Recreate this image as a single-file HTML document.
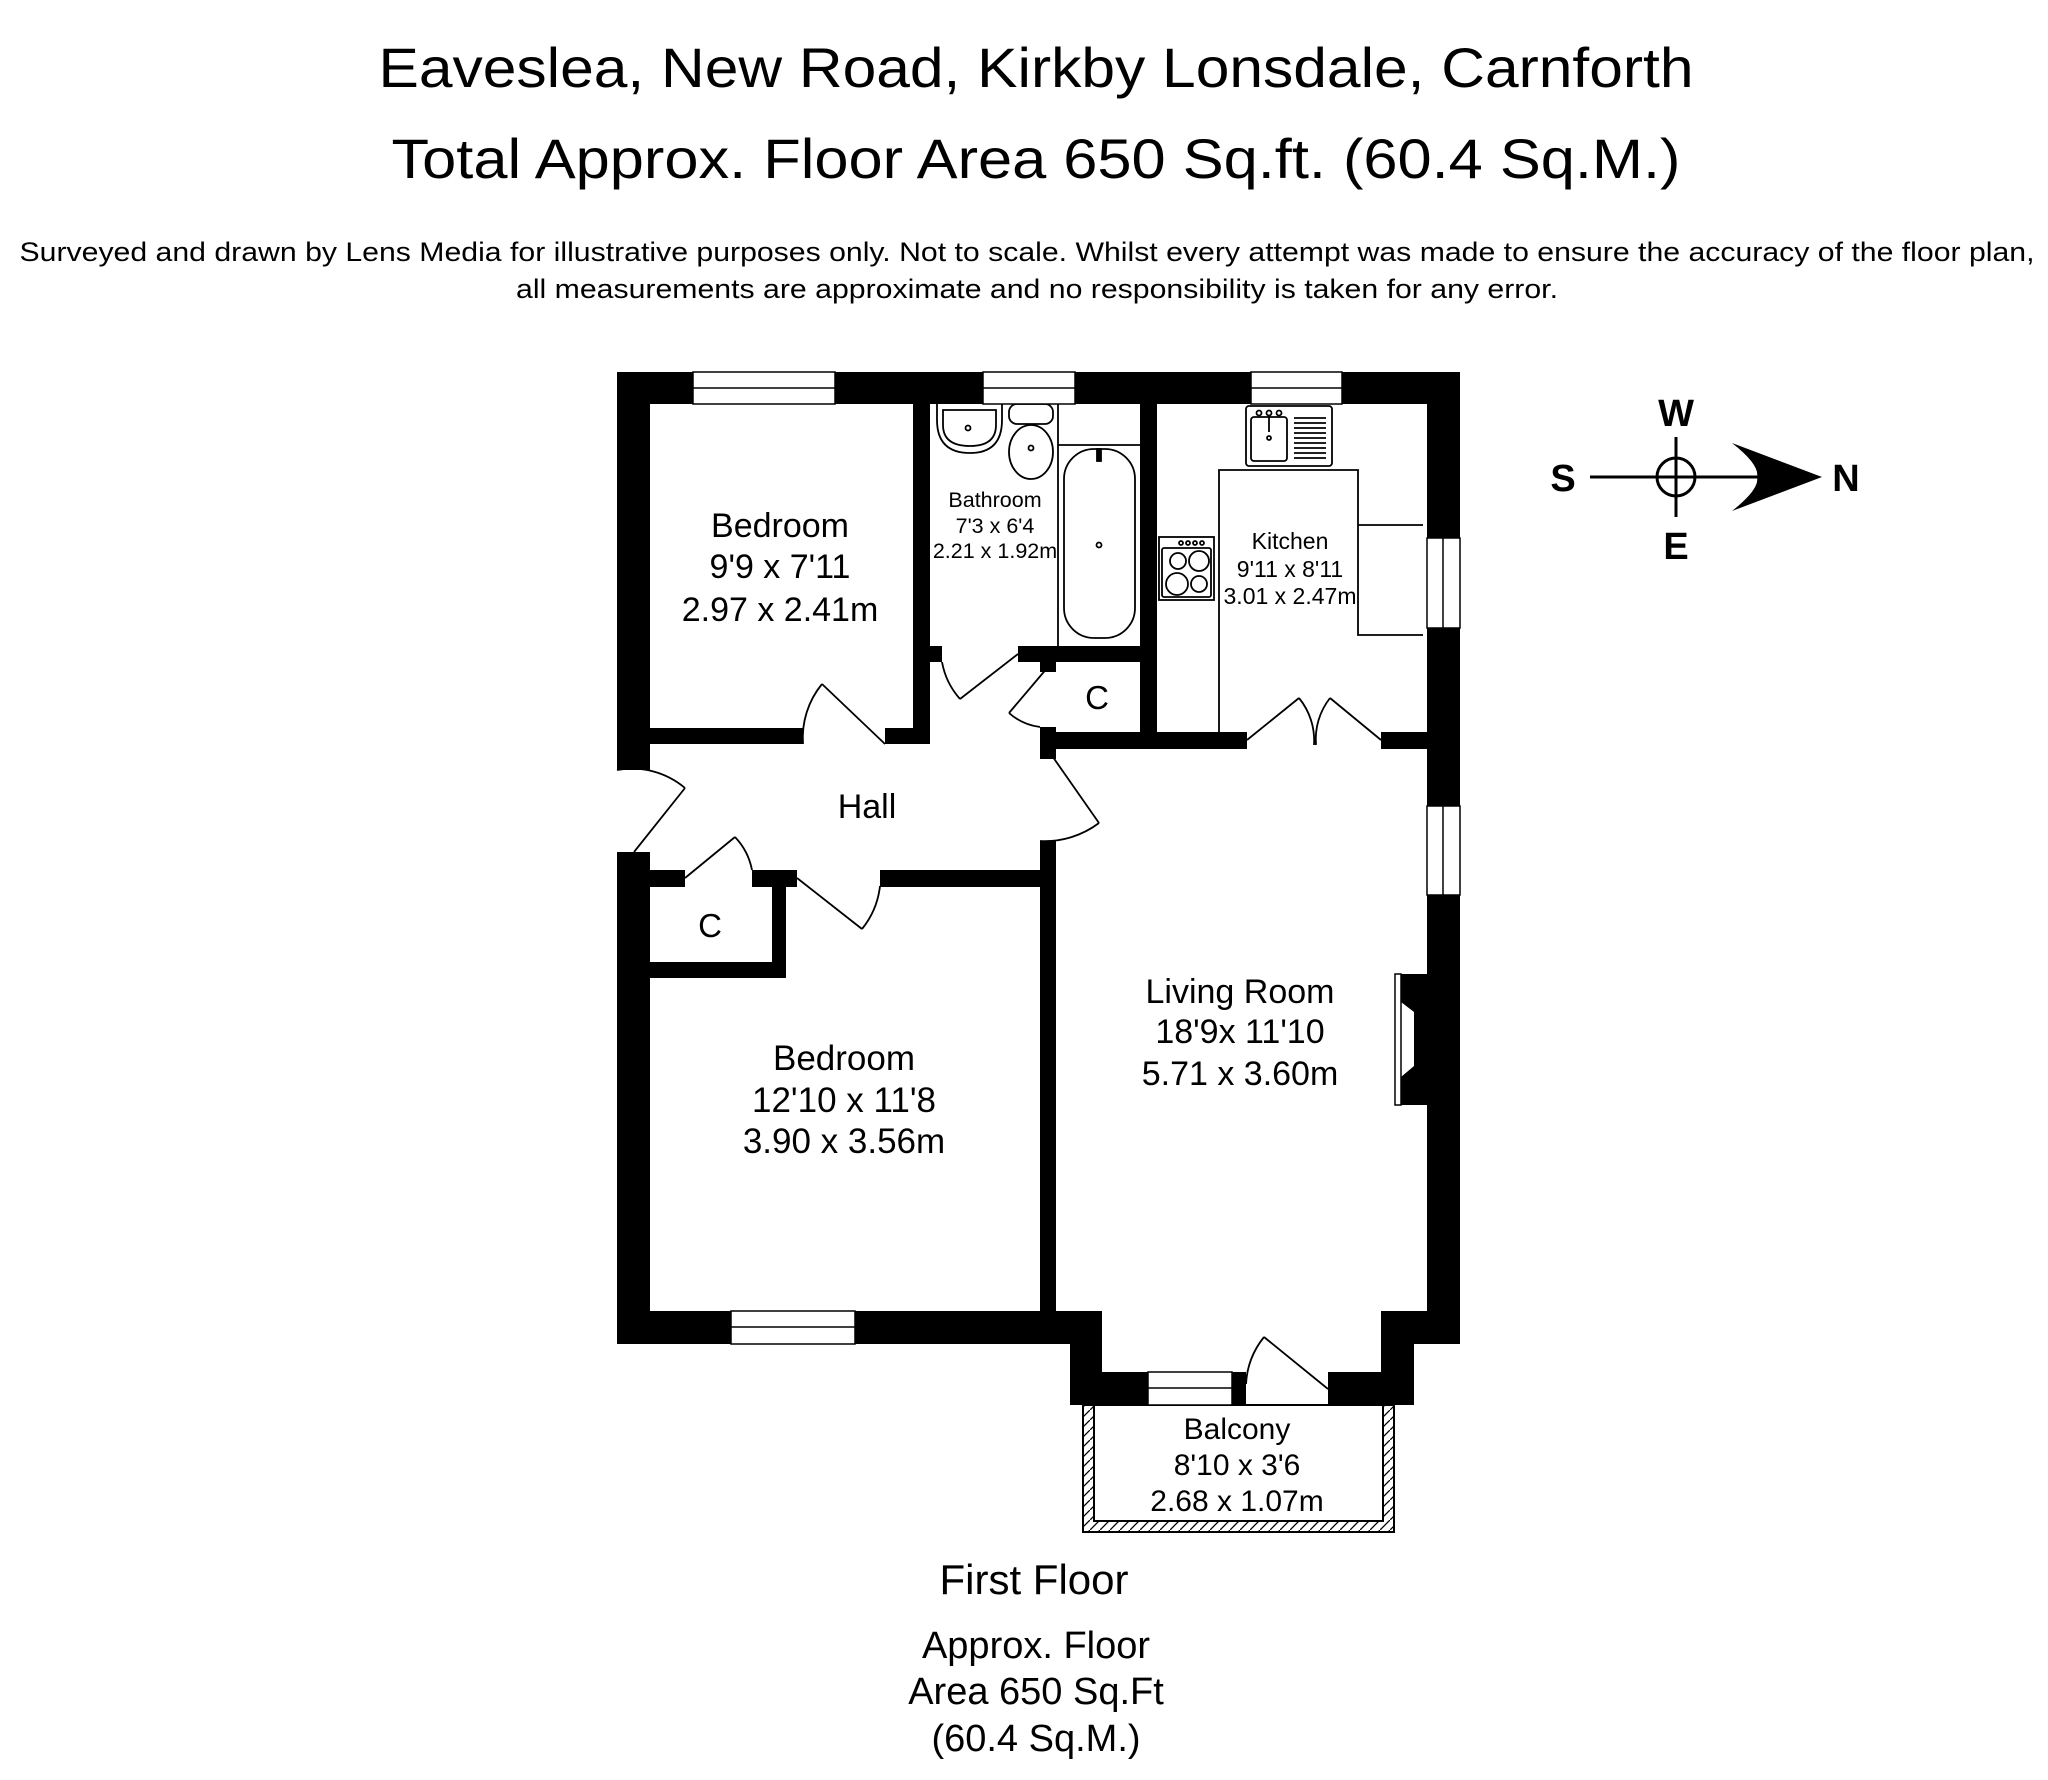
<!DOCTYPE html>
<html><head><meta charset="utf-8"><style>
html,body{margin:0;padding:0;background:#fff;}
svg{display:block;}
text{font-family:"Liberation Sans",Arial,sans-serif;fill:#000;}
</style></head><body>
<svg width="2048" height="1780" viewBox="0 0 2048 1780" xmlns="http://www.w3.org/2000/svg">
<defs>
<pattern id="h" width="10" height="10" patternUnits="userSpaceOnUse">
<rect width="10" height="10" fill="#fff"/>
<path d="M0 10 L10 0" stroke="#000" stroke-width="1.3"/>
</pattern>
</defs>
<text x="1036" y="87" font-size="56" text-anchor="middle" textLength="1315" lengthAdjust="spacingAndGlyphs">Eaveslea, New Road, Kirkby Lonsdale, Carnforth</text>
<text x="1036" y="178" font-size="56" text-anchor="middle" textLength="1289" lengthAdjust="spacingAndGlyphs">Total Approx. Floor Area 650 Sq.ft. (60.4 Sq.M.)</text>
<text x="1027" y="261" font-size="27" text-anchor="middle" textLength="2015" lengthAdjust="spacingAndGlyphs">Surveyed and drawn by Lens Media for illustrative purposes only. Not to scale. Whilst every attempt was made to ensure the accuracy of the floor plan,</text>
<text x="1037" y="298" font-size="27" text-anchor="middle" textLength="1042" lengthAdjust="spacingAndGlyphs">all measurements are approximate and no responsibility is taken for any error.</text>

<rect x="1083" y="1405" width="311" height="127" fill="url(#h)" stroke="#000" stroke-width="2"/>
<rect x="1094" y="1405" width="289" height="116" fill="#fff" stroke="#000" stroke-width="2"/>

<g fill="none" stroke="#000" stroke-width="1.8">
<path d="M937 404 L937 420 Q937 453 970 453 Q1002 453 1002 420 L1002 404"/>
<path d="M943 410 L996 410 L996 425 Q996 446 970 446 Q943 446 943 425 Z"/>
<circle cx="968" cy="428" r="2.5"/>
<rect x="1009" y="404" width="44" height="20" rx="8"/>
<ellipse cx="1031" cy="452" rx="22" ry="27"/>
<circle cx="1031" cy="448" r="2.5"/>
<path d="M1058 404 L1058 646 M1058 445 L1140 445"/>
<rect x="1064" y="449" width="71" height="189" rx="30"/>
<circle cx="1099" cy="545" r="2.5"/>
<rect x="1097" y="449" width="4" height="12" fill="#000"/>
<rect x="1246" y="406" width="86" height="60" rx="3"/>
<rect x="1251" y="417" width="36" height="44" rx="3"/>
<path d="M1294 418h32M1294 423h32M1294 428h32M1294 433h32M1294 438h32M1294 443h32M1294 448h32M1294 453h32M1294 458h32"/>
<circle cx="1259" cy="413" r="2.5"/><circle cx="1269" cy="413" r="2.5"/><circle cx="1279" cy="413" r="2.5"/>
<path d="M1269 415 L1269 432"/><circle cx="1269" cy="438" r="2"/>
<path d="M1219 749 L1219 470 L1358 470 L1358 635 L1423 635 M1358 525 L1423 525"/>
<rect x="1159" y="537" width="55" height="63"/>
<rect x="1162" y="548" width="49" height="49" rx="2"/>
<circle cx="1178" cy="561" r="8"/><circle cx="1199" cy="561" r="10"/>
<circle cx="1177" cy="584" r="11"/><circle cx="1199" cy="584" r="8"/>
<circle cx="1181" cy="543" r="2"/><circle cx="1188" cy="543" r="2"/><circle cx="1195" cy="543" r="2"/><circle cx="1202" cy="543" r="2"/>
<path d="M885 744 L822 684 M822 684 A85 85 0 0 0 803 744"/>
<path d="M1018 654 L960 699 M960 699 A76 76 0 0 1 942 662"/>
<path d="M1048 667 L1009 713 M1009 713 A58 58 0 0 0 1040 727"/>
<path d="M1048 750 L1099 823 M1099 823 A90 90 0 0 1 1040 841"/>
<path d="M634 852 L685 788 M685 788 A82 82 0 0 0 617 770"/>
<path d="M685 878 L735 837 M735 837 A66 66 0 0 1 752 870"/>
<path d="M797 878 L862 929 M862 929 A83 83 0 0 0 880 886"/>
<path d="M1247 740 L1299 698 M1299 698 A67 67 0 0 1 1314 745"/>
<path d="M1381 740 L1330 698 M1330 698 A67 67 0 0 0 1316 745"/>
<path d="M1328 1389 L1264 1337 M1264 1337 A82 82 0 0 0 1246 1384"/>
</g>

<g fill="#000">
<rect x="617" y="372" width="843" height="32"/>
<rect x="617" y="372" width="33" height="398"/>
<rect x="617" y="852" width="33" height="492"/>
<rect x="1427" y="372" width="33" height="972"/>
<rect x="913" y="404" width="17" height="340"/>
<rect x="930" y="646" width="12" height="16"/>
<rect x="650" y="728" width="153" height="16"/>
<rect x="885" y="728" width="45" height="16"/>
<rect x="1018" y="646" width="139" height="16"/>
<rect x="1140" y="404" width="17" height="345"/>
<rect x="1040" y="662" width="16" height="10"/>
<rect x="1040" y="727" width="16" height="32"/>
<rect x="1040" y="732" width="207" height="17"/>
<rect x="1381" y="732" width="46" height="17"/>
<rect x="1040" y="841" width="16" height="480"/>
<rect x="617" y="870" width="68" height="17"/>
<rect x="752" y="870" width="45" height="17"/>
<rect x="880" y="870" width="160" height="17"/>
<rect x="772" y="870" width="14" height="108"/>
<rect x="650" y="962" width="136" height="16"/>
<rect x="617" y="1311" width="485" height="33"/>
<rect x="1070" y="1311" width="32" height="94"/>
<rect x="1070" y="1372" width="176" height="33"/>
<rect x="1328" y="1372" width="86" height="33"/>
<rect x="1381" y="1311" width="33" height="94"/>
<rect x="1381" y="1311" width="79" height="33"/>
<polygon points="1401,974 1427,974 1427,1105 1401,1105 1401,1077 1414,1066 1414,1012 1401,1002"/>
</g>
<rect x="1395" y="974" width="6" height="131" fill="#fff" stroke="#000" stroke-width="1.5"/>

<g fill="#fff" stroke="#000" stroke-width="1.5">
<rect x="693" y="372" width="142" height="32"/><line x1="693" y1="388" x2="835" y2="388"/>
<rect x="983" y="372" width="92" height="32"/><line x1="983" y1="388" x2="1075" y2="388"/>
<rect x="1251" y="372" width="91" height="32"/><line x1="1251" y1="388" x2="1342" y2="388"/>
<rect x="1427" y="538" width="33" height="90"/><line x1="1443" y1="538" x2="1443" y2="628"/>
<rect x="1427" y="806" width="33" height="89"/><line x1="1443" y1="806" x2="1443" y2="895"/>
<rect x="731" y="1311" width="124" height="33"/><line x1="731" y1="1327" x2="855" y2="1327"/>
<rect x="1148" y="1372" width="84" height="33"/><line x1="1148" y1="1388" x2="1232" y2="1388"/>
</g>

<g text-anchor="middle">
<text x="780" y="537" font-size="34">Bedroom</text>
<text x="780" y="578" font-size="34">9'9 x 7'11</text>
<text x="780" y="621" font-size="34">2.97 x 2.41m</text>
<text x="995" y="507" font-size="21.5">Bathroom</text>
<text x="995" y="533" font-size="21.5">7'3 x 6'4</text>
<text x="995" y="558" font-size="21.5">2.21 x 1.92m</text>
<text x="1290" y="549" font-size="23">Kitchen</text>
<text x="1290" y="577" font-size="23">9'11 x 8'11</text>
<text x="1290" y="604" font-size="23">3.01 x 2.47m</text>
<text x="1097" y="709" font-size="33">C</text>
<text x="867" y="818" font-size="34">Hall</text>
<text x="710" y="937" font-size="33">C</text>
<text x="1240" y="1003" font-size="34">Living Room</text>
<text x="1240" y="1043" font-size="34">18'9x 11'10</text>
<text x="1240" y="1085" font-size="34">5.71 x 3.60m</text>
<text x="844" y="1070" font-size="35">Bedroom</text>
<text x="844" y="1112" font-size="35">12'10 x 11'8</text>
<text x="844" y="1153" font-size="35">3.90 x 3.56m</text>
<text x="1237" y="1439" font-size="30">Balcony</text>
<text x="1237" y="1475" font-size="30">8'10 x 3'6</text>
<text x="1237" y="1511" font-size="30">2.68 x 1.07m</text>
<text x="1034" y="1594" font-size="42">First Floor</text>
<text x="1036" y="1658" font-size="38">Approx. Floor</text>
<text x="1036" y="1704" font-size="38">Area 650 Sq.Ft</text>
<text x="1036" y="1751" font-size="38">(60.4 Sq.M.)</text>
</g>

<g stroke="#000" stroke-width="3" fill="none">
<line x1="1590" y1="477" x2="1760" y2="477"/>
<line x1="1676" y1="437" x2="1676" y2="517"/>
<circle cx="1676" cy="477" r="19"/>
</g>
<path d="M1732 443 Q1760 465 1757 477 Q1760 489 1732 511 L1822 477 Z" fill="#000"/>
<g font-weight="bold" font-size="38" text-anchor="middle">
<text x="1563" y="491">S</text>
<text x="1676" y="426">W</text>
<text x="1676" y="559">E</text>
<text x="1846" y="491">N</text>
</g>
</svg>
</body></html>
